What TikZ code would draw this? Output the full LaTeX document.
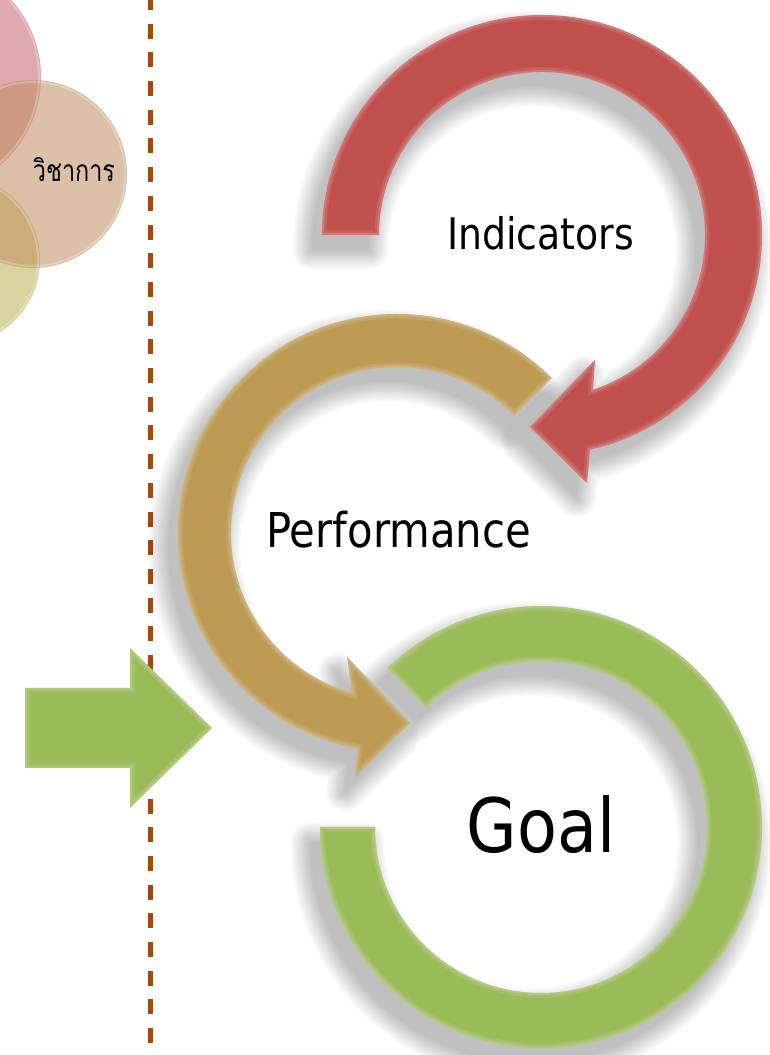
\documentclass[tikz,border=0pt]{standalone}
\usepackage{fontspec}
\usetikzlibrary{calc}
\newfontfamily\labelfont{DejaVu Sans}[FakeStretch=0.87]
\newfontfamily\thaifont[Script=Thai,FakeStretch=0.78]{Loma}
\definecolor{redc}{HTML}{C0504D}
\definecolor{goldc}{HTML}{BE9B55}
\definecolor{greenc}{HTML}{9BBB59}
\definecolor{dashc}{HTML}{A24A12}
\definecolor{pinkc}{RGB}{200,100,110}
\definecolor{brownc}{RGB}{190,140,95}
\definecolor{olivec}{RGB}{180,170,60}
\newcommand\redpath{(322,820) arc[start angle=180,end angle=-77.4,radius=220pt] -- (587,572) -- (530,628) -- (595,695) -- ($(542,820)+(-71.8:163)$) arc[start angle=-71.8,end angle=180,radius=163pt] -- cycle}
\newcommand\goldpath{($(397,522)+(45:219)$) arc[start angle=45,end angle=259.7,radius=219pt] -- (355,278) -- (410,332) -- (347,398) -- ($(397,522)+(254.3:166)$) arc[start angle=254.3,end angle=45,radius=166pt] -- cycle}
\newcommand\greenpath{($(541,228)+(134:221)$) arc[start angle=134,end angle=-180,radius=221pt] -- (375,228) arc[start angle=-180,end angle=134,radius=166pt] -- cycle}
\newcommand\softshadow[1]{%
  \foreach \w in {0.1,4,...,40}{%
    \begin{scope}[transparency group,opacity=0.025]
      \filldraw[black,line width=\w pt,line join=round,shift={(-10,-15)}] #1;
    \end{scope}}}
\newcommand\bevelshape[2]{%
  \fill[#2] #1;
  \begin{scope}\clip #1;
    \draw[white,opacity=0.10,line width=9pt] #1;
    \draw[white,opacity=0.14,line width=4pt] #1;
  \end{scope}}
\tikzset{
  bigtext/.style={inner sep=0pt,anchor=base,text=black}
}
\begin{document}
\begin{tikzpicture}[x=1pt,y=1pt]
\useasboundingbox (0,0) rectangle (769,1055);
\clip (0,0) rectangle (769,1055);
\fill[white] (0,0) rectangle (769,1055);
% left circles
\fill[pinkc,opacity=0.55] (-74,978) circle[radius=115pt];
\fill[olivec,opacity=0.5] (-45,795) circle[radius=85pt];
\fill[brownc,opacity=0.55] (33,881) circle[radius=94pt];
\draw[white,opacity=0.25,line width=2pt] (-74,978) circle[radius=113pt];
\draw[white,opacity=0.25,line width=2pt] (-45,795) circle[radius=83pt];
\draw[white,opacity=0.25,line width=2pt] (33,881) circle[radius=92pt];
\node[inner sep=0pt,anchor=base] (subj) at (74,873) {\thaifont\fontsize{30}{34}\selectfont วิชาการ};
% dashed divider
\coordinate (dtop) at (150.5,1055);
\coordinate (dbot) at (150.5,0);
\draw[dashc,line width=4.4pt,dash pattern=on 15pt off 13.7pt,dash phase=5pt] (dtop) -- (dbot);
% shadows
\softshadow{\greenpath}
\softshadow{\goldpath}
\softshadow{\redpath}
% rings
\bevelshape{\greenpath}{greenc}
\bevelshape{\goldpath}{goldc}
\bevelshape{\redpath}{redc}
% left arrow
\bevelshape{(25,367) -- (130,367) -- (130,407) -- (212,327) -- (130,247) -- (130,287) -- (25,287) -- cycle}{greenc}
% labels
\node[bigtext] (ind) at (540.5,805) {\labelfont\fontsize{43.5}{50}\selectfont Indicators};
\node[bigtext] (perf) at (398.5,507) {\labelfont\fontsize{48}{55}\selectfont Performance};
\node[bigtext] (goal) at (541,202) {\labelfont\fontsize{75}{85}\selectfont Goal};
\end{tikzpicture}
\end{document}
